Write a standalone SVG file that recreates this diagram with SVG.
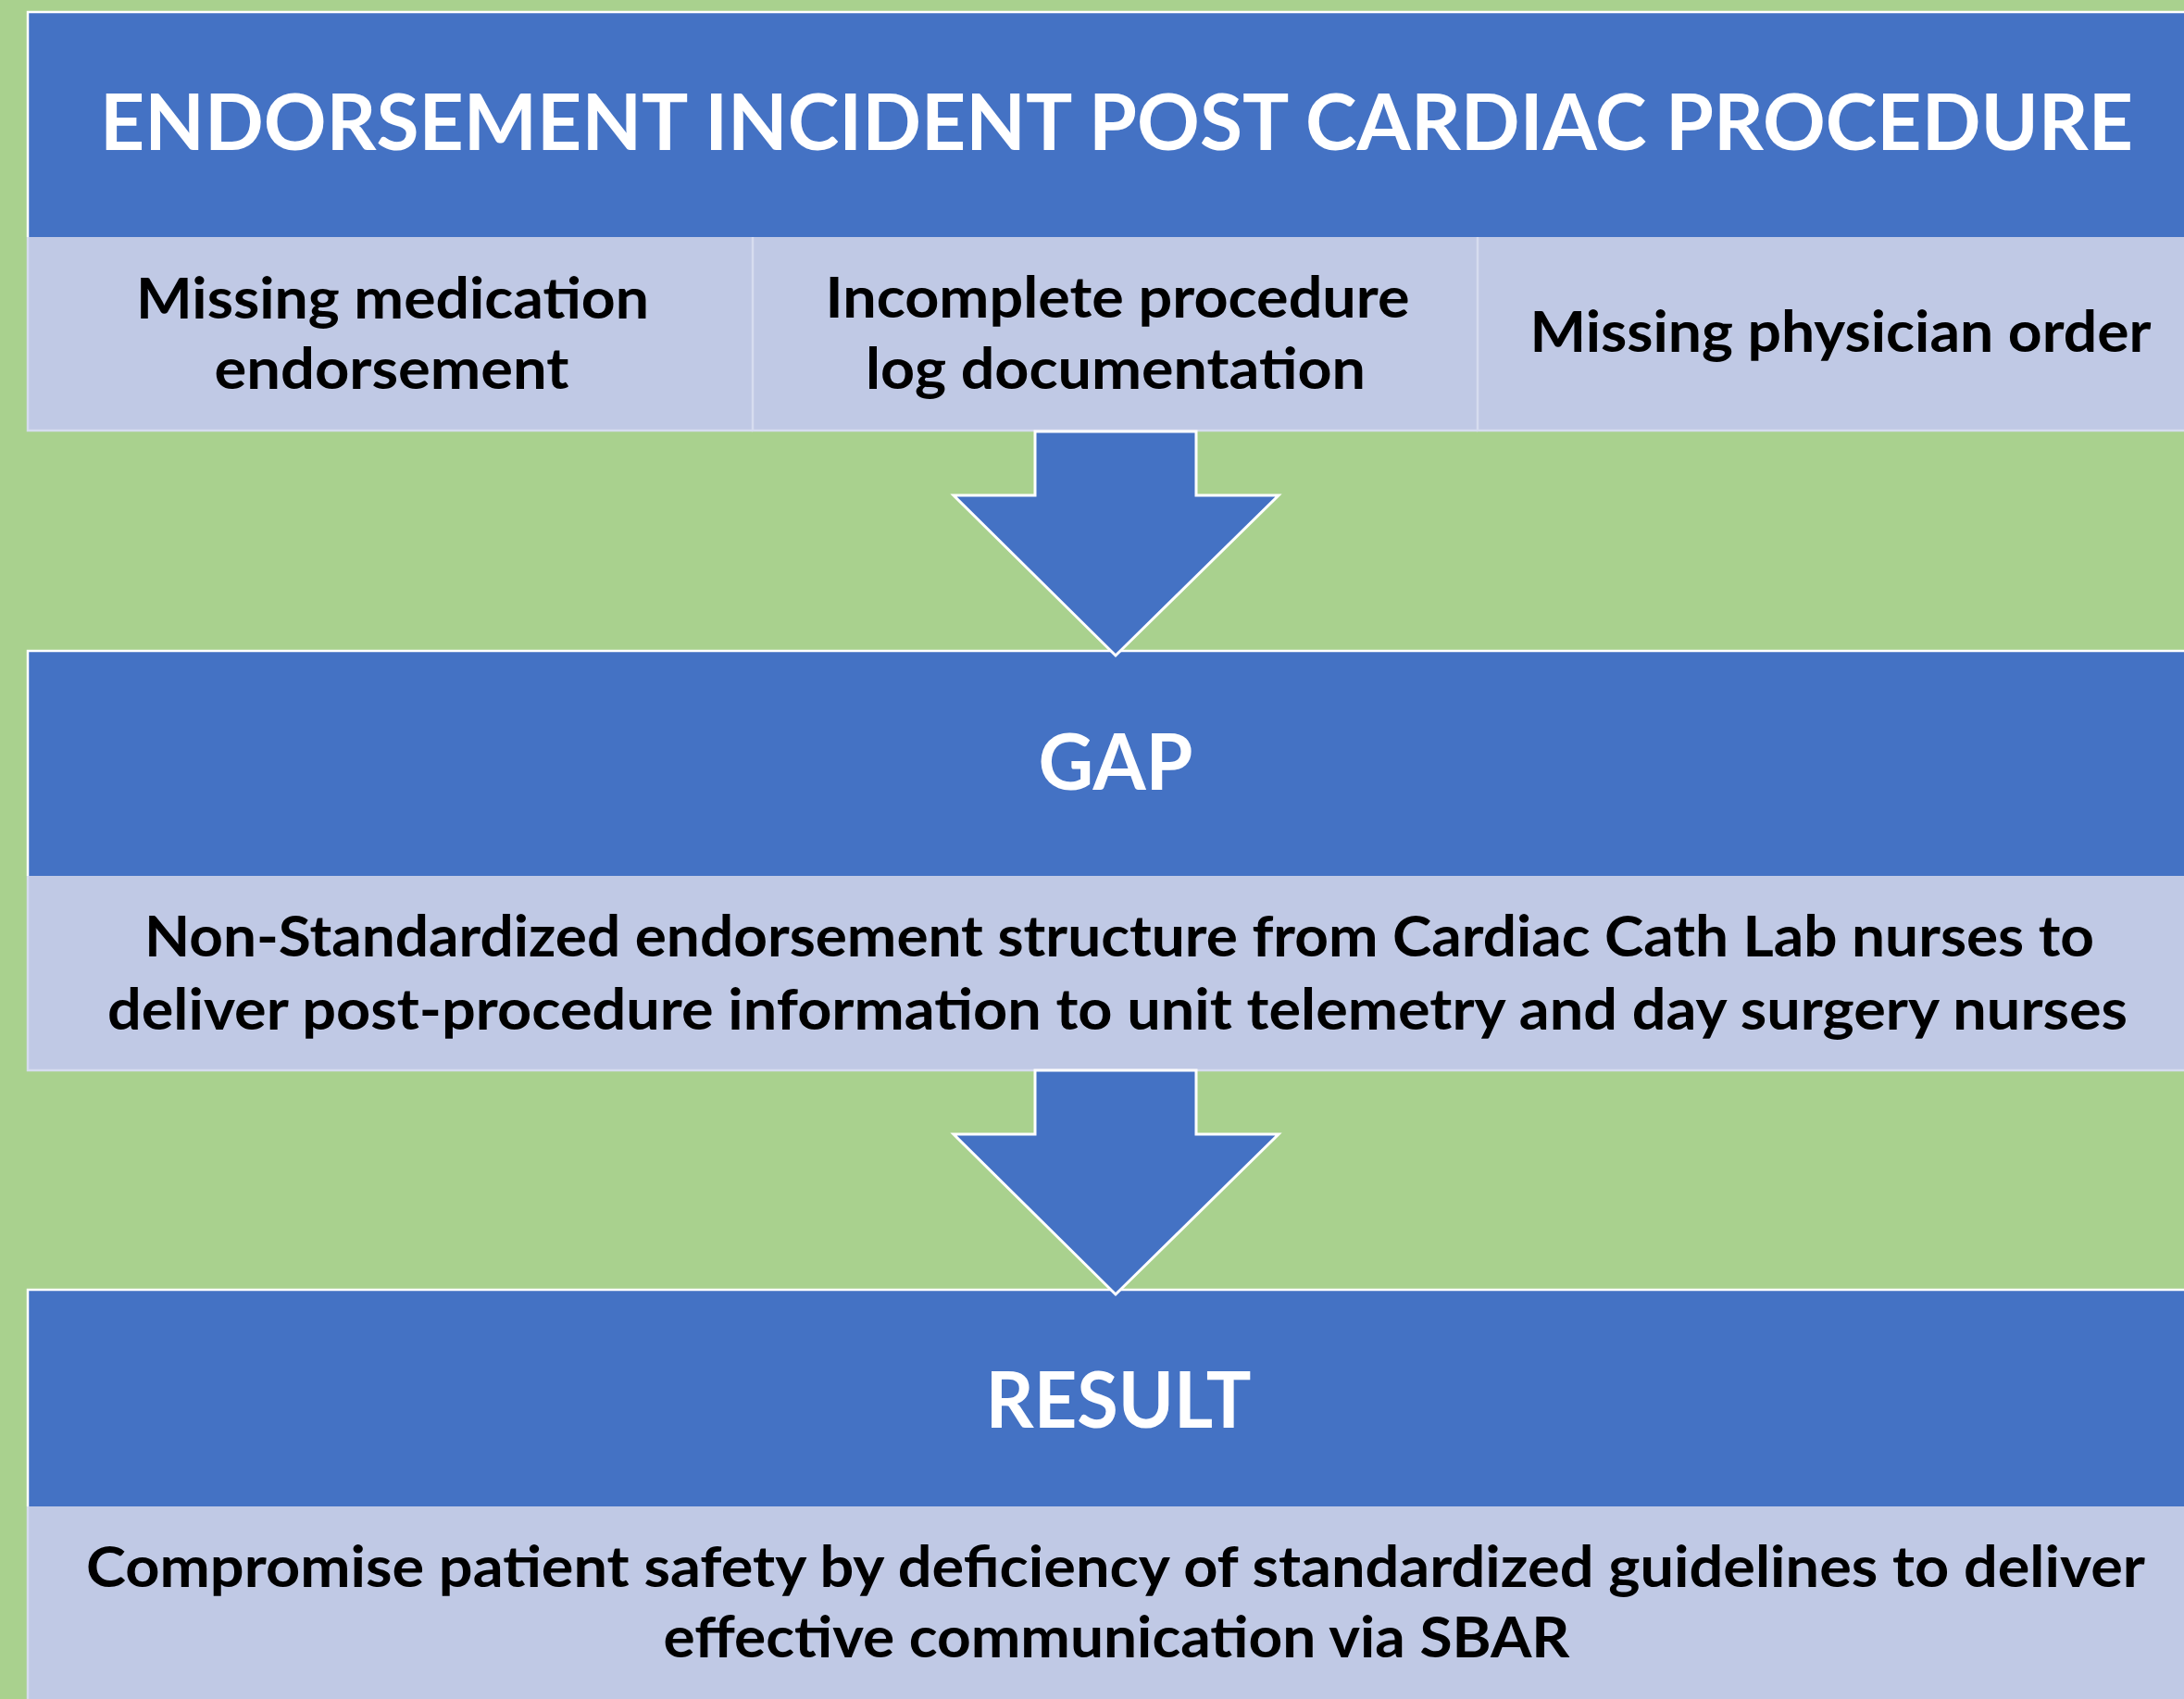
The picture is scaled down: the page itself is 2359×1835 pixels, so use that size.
<svg xmlns="http://www.w3.org/2000/svg" width="2359" height="1835" viewBox="0 0 2359 1835">
<style>
.hdr{fill:#4472C4}
.cell{fill:#C0C9E5}
.wl{stroke:#FFFFFF;stroke-width:2.5;fill:none}
.cl{stroke:#D6DCEF;stroke-width:2.5;fill:none}
.ht{font-family:Lato,"Open Sans","Liberation Sans",sans-serif;font-weight:bold;fill:#FFFFFF;text-anchor:middle}
.bt{font-family:Lato,"Open Sans","Liberation Sans",sans-serif;font-weight:bold;fill:#000000;text-anchor:middle;font-size:62px}
.arr{fill:#4472C4;stroke:#FFFFFF;stroke-width:3;stroke-linejoin:miter}
</style>
<rect x="0" y="0" width="2359" height="1835" fill="#A9D18E"/>
<g id="title">
<rect class="hdr" x="30" y="13" width="2329" height="243"/>
<path class="wl" d="M2359,13 H30 V256"/>
<text class="ht" x="1206" y="162" font-size="85" textLength="2196" lengthAdjust="spacingAndGlyphs">ENDORSEMENT INCIDENT POST CARDIAC PROCEDURE</text>
</g>
<g id="cell-medication">
<rect class="cell" x="30" y="256" width="783" height="209"/>
<path class="cl" d="M30,256 V465 H813"/>
<text class="bt" x="424" y="344" textLength="554" lengthAdjust="spacingAndGlyphs">Missing medication</text>
<text class="bt" x="423" y="420" textLength="383" lengthAdjust="spacingAndGlyphs">endorsement</text>
</g>
<g id="cell-procedure-log">
<rect class="cell" x="813" y="256" width="783" height="209"/>
<path class="cl" d="M813,256 V465 H1596"/>
<text class="bt" x="1207" y="343" textLength="631" lengthAdjust="spacingAndGlyphs">Incomplete procedure</text>
<text class="bt" x="1205" y="420" textLength="540" lengthAdjust="spacingAndGlyphs">log documentation</text>
</g>
<g id="cell-physician-order">
<rect class="cell" x="1596" y="256" width="763" height="209"/>
<path class="cl" d="M1596,256 V465 H2359"/>
<text class="bt" x="1988" y="380" textLength="671" lengthAdjust="spacingAndGlyphs">Missing physician order</text>
</g>
<g id="gap">
<rect class="hdr" x="30" y="703" width="2329" height="243"/>
<path class="wl" d="M2359,703 H30 V946"/>
<text class="ht" x="1205" y="853" font-size="85" textLength="167" lengthAdjust="spacingAndGlyphs">GAP</text>
</g>
<g id="gap-detail">
<rect class="cell" x="30" y="946" width="2329" height="210"/>
<path class="cl" d="M30,946 V1156 H2359"/>
<text class="bt" x="1209" y="1033" textLength="2106" lengthAdjust="spacingAndGlyphs">Non-Standardized endorsement structure from Cardiac Cath Lab nurses to</text>
<text class="bt" x="1207" y="1112" textLength="2182" lengthAdjust="spacingAndGlyphs">deliver post-procedure information to unit telemetry and day surgery nurses</text>
</g>
<g id="result">
<rect class="hdr" x="30" y="1393" width="2329" height="234"/>
<path class="wl" d="M2359,1393 H30 V1627"/>
<text class="ht" x="1208" y="1542" font-size="84" textLength="287" lengthAdjust="spacingAndGlyphs">RESULT</text>
</g>
<g id="result-detail">
<rect class="cell" x="30" y="1627" width="2329" height="208"/>
<path class="cl" d="M30,1627 V1835"/>
<text class="bt" x="1205" y="1714" textLength="2224" lengthAdjust="spacingAndGlyphs">Compromise patient safety by deficiency of standardized guidelines to deliver</text>
<text class="bt" x="1206" y="1790" textLength="979" lengthAdjust="spacingAndGlyphs">effective communication via SBAR</text>
</g>
<g id="connectors">
<polygon class="arr" points="1118,466 1292,466 1292,535 1381,535 1205,708 1030,535 1118,535"/>
<polygon class="arr" points="1118,1156 1292,1156 1292,1225 1381,1225 1205,1398 1030,1225 1118,1225"/>
</g>
</svg>
